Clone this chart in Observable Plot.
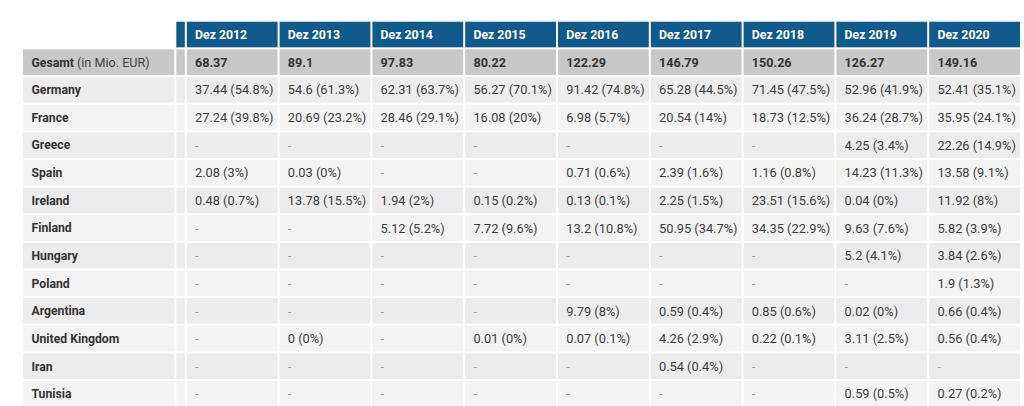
<!DOCTYPE html>
<html>
<head>
<meta charset="utf-8">
<script src="https://cdn.jsdelivr.net/npm/d3@7"></script>
<script src="https://cdn.jsdelivr.net/npm/@observablehq/plot@0.6"></script>
<style>
  html, body { margin: 0; padding: 0; background: #ffffff; }
  #chart svg { display: block; }
</style>
</head>
<body>
<div id="chart"></div>
<script>
// ---- data ----
const periods = ["Dez 2012", "Dez 2013", "Dez 2014", "Dez 2015", "Dez 2016", "Dez 2017", "Dez 2018", "Dez 2019", "Dez 2020"];
const totals = [68.37, 89.1, 97.83, 80.22, 122.29, 146.79, 150.26, 126.27, 149.16];
const totalLabel = "Gesamt";
const totalUnit = " (in Mio. EUR)";
const countries = ["Germany", "France", "Greece", "Spain", "Ireland", "Finland", "Hungary", "Poland", "Argentina", "United Kingdom", "Iran", "Tunisia"];
const countryValues = [
  [37.44, 54.6, 62.31, 56.27, 91.42, 65.28, 71.45, 52.96, 52.41],
  [27.24, 20.69, 28.46, 16.08, 6.98, 20.54, 18.73, 36.24, 35.95],
  [null, null, null, null, null, null, null, 4.25, 22.26],
  [2.08, 0.03, null, null, 0.71, 2.39, 1.16, 14.23, 13.58],
  [0.48, 13.78, 1.94, 0.15, 0.13, 2.25, 23.51, 0.04, 11.92],
  [null, null, 5.12, 7.72, 13.2, 50.95, 34.35, 9.63, 5.82],
  [null, null, null, null, null, null, null, 5.2, 3.84],
  [null, null, null, null, null, null, null, null, 1.9],
  [null, null, null, null, 9.79, 0.59, 0.85, 0.02, 0.66],
  [null, 0, null, 0.01, 0.07, 4.26, 0.22, 3.11, 0.56],
  [null, null, null, null, null, 0.54, null, null, null],
  [null, null, null, null, null, null, null, 0.59, 0.27]
];
const countryShares = [
  [54.8, 61.3, 63.7, 70.1, 74.8, 44.5, 47.5, 41.9, 35.1],
  [39.8, 23.2, 29.1, 20, 5.7, 14, 12.5, 28.7, 24.1],
  [null, null, null, null, null, null, null, 3.4, 14.9],
  [3, 0, null, null, 0.6, 1.6, 0.8, 11.3, 9.1],
  [0.7, 15.5, 2, 0.2, 0.1, 1.5, 15.6, 0, 8],
  [null, null, 5.2, 9.6, 10.8, 34.7, 22.9, 7.6, 3.9],
  [null, null, null, null, null, null, null, 4.1, 2.6],
  [null, null, null, null, null, null, null, null, 1.3],
  [null, null, null, null, 8, 0.4, 0.6, 0, 0.4],
  [null, 0, null, 0, 0.1, 2.9, 0.1, 2.5, 0.4],
  [null, null, null, null, null, 0.4, null, null, null],
  [null, null, null, null, null, null, null, 0.5, 0.2]
];

// ---- table built from the arrays ----
const HEADER = "__header__";
const rows = [HEADER, totalLabel, ...countries];

const headerCells = periods.map((p, j) => ({row: HEADER, col: j, text: p}));
const totalCells = totals.map((v, j) => ({row: totalLabel, col: j, text: String(v)}));
const countryCells = countries.flatMap((c, i) =>
  periods.map((p, j) => {
    const v = countryValues[i][j];
    const s = countryShares[i][j];
    return {row: c, idx: i, col: j, empty: v == null, text: v == null ? "-" : `${v} (${s}%)`};
  })
);
const bodyRows = [totalLabel, ...countries];

// ---- layout / style ----
const LABEL_START = -1.765; // in column units, left of the data grid
const SPACER = 0.113;
const BLUE = "#105b8c";
const TOTAL_BG = "#c8c8c8";
const ROW_DARK = "#ececec";
const ROW_LIGHT = "#f3f3f3";
const rowFill = (r) => {
  if (r === HEADER) return BLUE;
  if (r === totalLabel) return TOTAL_BG;
  return countries.indexOf(r) % 2 === 0 ? ROW_DARK : ROW_LIGHT;
};
const inset = {insetLeft: 1, insetRight: 1, insetTop: 1, insetBottom: 1};

const chart = Plot.plot({
  width: 1024,
  height: 406,
  margin: 0,
  style: {fontFamily: "Roboto, 'Noto Sans', sans-serif", fontSize: "13px", background: "#ffffff"},
  x: {type: "linear", domain: [0, periods.length], range: [185.8, 1021], axis: null},
  y: {type: "band", domain: rows, range: [20.7, 407.7], padding: 0, round: false, axis: null},
  marks: [
    Plot.barX([...headerCells, ...totalCells, ...countryCells], {
      x1: d => d.col, x2: d => d.col + 1, y: "row",
      fill: d => rowFill(d.row), ...inset
    }),
    Plot.barX(rows, {
      x1: -SPACER, x2: 0, y: d => d,
      fill: d => rowFill(d), ...inset
    }),
    Plot.barX(bodyRows, {
      x1: LABEL_START, x2: -SPACER, y: d => d,
      fill: d => rowFill(d), ...inset
    }),
    Plot.text(headerCells, {
      x: d => d.col, y: "row", text: "text", dx: 8.7, textAnchor: "start",
      fill: "#ffffff", fontWeight: "bold", fontSize: 12.3
    }),
    Plot.text(totalCells, {
      x: d => d.col, y: "row", text: "text", dx: 8.7, textAnchor: "start",
      fill: "#333333", fontWeight: "bold", fontSize: 12.6
    }),
    Plot.text(countryCells, {
      x: d => d.col, y: "row", text: "text", dx: 8.7, textAnchor: "start",
      fill: d => d.empty ? "#a0a0a0" : "#3d3d3d", fontSize: 12.8
    }),
    Plot.text(bodyRows, {
      x: LABEL_START, y: d => d, text: d => d, dx: 9, textAnchor: "start",
      fill: "#333333", fontWeight: "bold", fontSize: 12.2
    })
  ]
});
// mixed weight for "Gesamt (in Mio. EUR)"
d3.select(chart).selectAll("text")
  .filter(function() { return this.textContent === totalLabel; })
  .append("tspan")
  .attr("font-weight", "normal")
  .attr("font-size", 12.6)
  .attr("fill", "#444444")
  .text(totalUnit);
document.getElementById("chart").appendChild(chart);
</script>
</body>
</html>
